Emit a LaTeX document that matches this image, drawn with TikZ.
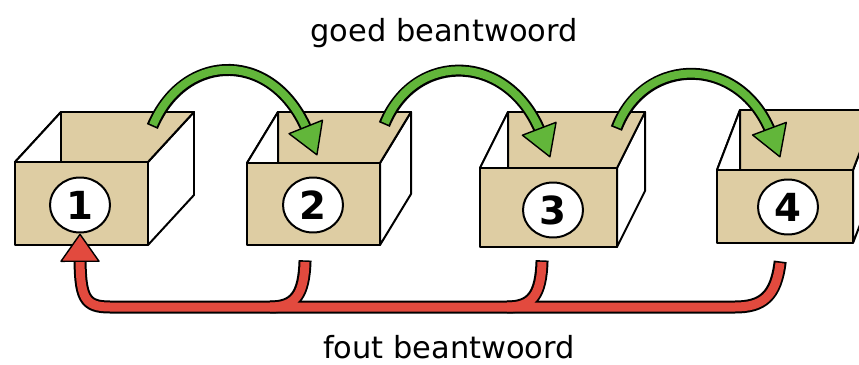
\documentclass[tikz,border=0pt]{standalone}
\usepackage{xcolor}
\usepackage{tikz}
\usepackage{fontspec}
\setmainfont{DejaVu Sans}
\usetikzlibrary{shapes.geometric,decorations.markings}
\definecolor{karton}{RGB}{222,205,163}
\definecolor{groen}{RGB}{98,182,58}
\definecolor{rood}{RGB}{226,74,62}

\begin{document}
\begin{tikzpicture}[x=0.3mm,y=-0.3mm,
	rand/.style={line width=1.7pt,line join=round},
	nummer/.style={ellipse,draw,line width=1.7pt,fill=white,minimum width=18mm,minimum height=16.5mm,inner sep=0pt,font=\fontsize{33}{33}\selectfont\bfseries},
	tekst/.style={font=\fontsize{26}{30}\selectfont},
	groenrand/.style={line width=3.6mm,black,shorten >=7mm,shorten <=-0.5mm},
	groenpijl/.style={line width=2.4mm,groen,shorten >=7mm,postaction={decorate},decoration={markings,mark=at position 0.999 with {\draw[black,fill=groen,line width=1.2pt,line join=round] (0,0) -- (-9mm,5.4mm) -- (-9mm,-5.4mm) -- cycle;}}},
	roodrand/.style={line width=3.9mm,black,shorten >=6mm,shorten <=-0.5mm},
	takrand/.style={line width=3.9mm,black,shorten <=-0.5mm},
	roodtak/.style={line width=2.7mm,rood},
	roodpijl/.style={line width=2.7mm,rood,shorten >=6mm,postaction={decorate},decoration={markings,mark=at position 0.999 with {\draw[black,fill=rood,line width=1.2pt,line join=round] (0,0) -- (-8.1mm,5.7mm) -- (-8.1mm,-5.7mm) -- cycle;}}}]
	\newcommand\doos[6]{% x, y, breedte, hoogte, dx, dy
		\draw[rand,fill=white] ({#1+#3},#2) -- ++(#5,#6) -- ++(0,#4) -- ({#1+#3},{#2+#4}) -- cycle; % zijkant
		\draw[rand,fill=karton] (#1,#2) -- ++(#5,#6) -- ++(#3,0) -- ({#1+#3},#2) -- cycle; % opening
		\draw[rand,fill=white] (#1,#2) -- ++(#5,#6) -- ({#1+#5},#2) -- cycle; % binnenwand
		\draw[rand,fill=karton] (#1,#2) rectangle ++(#3,#4); % voorkant
	}

	\useasboundingbox (0,0) rectangle (859,365);
	\clip (0,0) rectangle (859,365);

	\doos{15}{162}{133}{83}{46}{-50}
	\doos{247}{163}{133}{82}{31}{-51}
	\doos{480}{168}{137}{79}{28}{-56}
	\doos{717}{170}{136}{73}{23}{-60}

	\node[nummer] (c1) at (80,205) {1};
	\node[nummer] (c2) at (313,205) {2};
	\node[nummer] (c3) at (553,210) {3};
	\node[nummer] (c4) at (788,207) {4};

	\node[tekst] (goed) at (444,33) {goed beantwoord};
	\node[tekst] (fout) at (449,347) {fout beantwoord};

	% groene pijlen
	\coordinate (uit1) at (153,125); \coordinate (in2) at (317,155);
	\coordinate (uit2) at (385,123); \coordinate (in3) at (550,157);
	\coordinate (uit3) at (617,127); \coordinate (in4) at (780,157);

	% rode pijl
	\coordinate (r2) at (305,262); \coordinate (j2) at (270,307);
	\coordinate (r3) at (542,262); \coordinate (j3) at (507,307);
	\coordinate (r4) at (780,263);

	\draw[roodrand] (r4) .. controls (776,297) and (762,307) .. (735,307) -- (110,307) .. controls (84,307) and (80,298) .. (c1.south);
	\draw[takrand] (r2) .. controls (304,295) and (295,307) .. (j2);
	\draw[takrand] (r3) .. controls (541,295) and (532,307) .. (j3);
	\draw[roodpijl] (r4) .. controls (776,297) and (762,307) .. (735,307) -- (110,307) .. controls (84,307) and (80,298) .. (c1.south);
	\draw[roodtak] (r2) .. controls (304,295) and (295,307) .. (j2);
	\draw[roodtak] (r3) .. controls (541,295) and (532,307) .. (j3);

	\draw[groenrand] (uit1) .. controls (185,50) and (275,50) .. (in2);
	\draw[groenpijl] (uit1) .. controls (185,50) and (275,50) .. (in2);
	\draw[groenrand] (uit2) .. controls (415,50) and (510,52) .. (in3);
	\draw[groenpijl] (uit2) .. controls (415,50) and (510,52) .. (in3);
	\draw[groenrand] (uit3) .. controls (645,54) and (742,55) .. (in4);
	\draw[groenpijl] (uit3) .. controls (645,54) and (742,55) .. (in4);
\end{tikzpicture}
\end{document}
